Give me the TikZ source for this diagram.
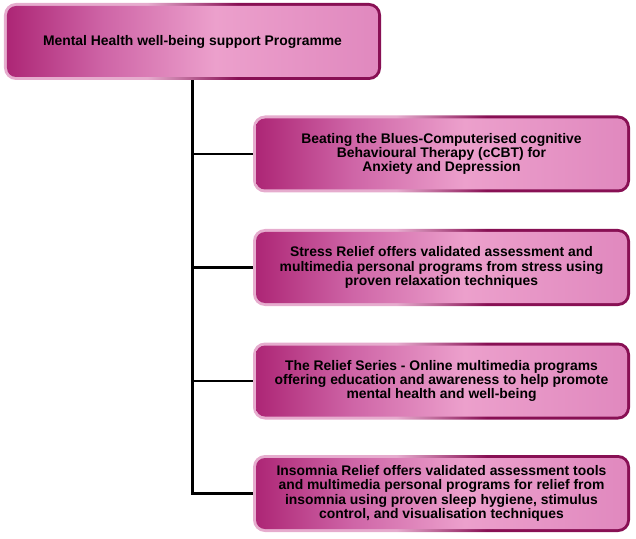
\documentclass[tikz,border=0pt]{standalone}
\usepackage{fontspec}
\setmainfont{Liberation Sans}
\definecolor{fa}{RGB}{172,36,116}
\definecolor{fb}{RGB}{206,100,166}
\definecolor{fc}{RGB}{236,160,204}
\definecolor{fd}{RGB}{224,136,190}
\definecolor{ba}{RGB}{230,172,206}
\definecolor{bb}{RGB}{136,16,84}
\pgfdeclarehorizontalshading{fillshade}{100bp}{color(0bp)=(fa); color(25bp)=(fa); color(38bp)=(fb); color(53bp)=(fc); color(75bp)=(fd); color(100bp)=(fd)}
\pgfdeclarehorizontalshading{bordershade}{100bp}{color(0bp)=(ba); color(25bp)=(ba); color(44bp)=(ba); color(56bp)=(bb); color(75bp)=(bb); color(100bp)=(bb)}
\tikzset{
  box/.style={minimum width=377bp, minimum height=77bp, rounded corners=12bp,
    shade, shading=bordershade, inner sep=0pt, align=center,
    font=\fontsize{13.9bp}{14.3bp}\selectfont\bfseries,
    path picture={\shade[shading=fillshade, rounded corners=9bp]
      ([shift={(3bp,3bp)}]path picture bounding box.south west) rectangle
      ([shift={(-3bp,-3bp)}]path picture bounding box.north east);}},
  conn/.style={draw=black, line width=2.6bp}
}
\begin{document}
\begin{tikzpicture}[x=1bp,y=-1bp]
\useasboundingbox (0,0) rectangle (636,539);
\node[box] (top) at (192.5,41.5) {Mental Health well-being support Programme};
\node[box] (b1) at (441.5,154) {Beating the Blues-Computerised cognitive\\Behavioural Therapy (cCBT) for\\Anxiety and Depression};
\node[box] (b2) at (441.5,267.5) {Stress Relief offers validated assessment and\\multimedia personal programs from stress using\\proven relaxation techniques};
\node[box] (b3) at (441.5,381) {The Relief Series - Online multimedia programs\\offering education and awareness to help promote\\mental health and well-being};
\node[box] (b4) at (441.5,493.5) {Insomnia Relief offers validated assessment tools\\and multimedia personal programs for relief from\\insomnia using proven sleep hygiene, stimulus\\control, and visualisation techniques};
\draw[conn] (top.south) -- (top.south |- b4.west) -- (b4.west);
\draw[conn] (top.south |- b1.west) -- (b1.west);
\draw[conn] (top.south |- b2.west) -- (b2.west);
\draw[conn] (top.south |- b3.west) -- (b3.west);
\end{tikzpicture}
\end{document}
